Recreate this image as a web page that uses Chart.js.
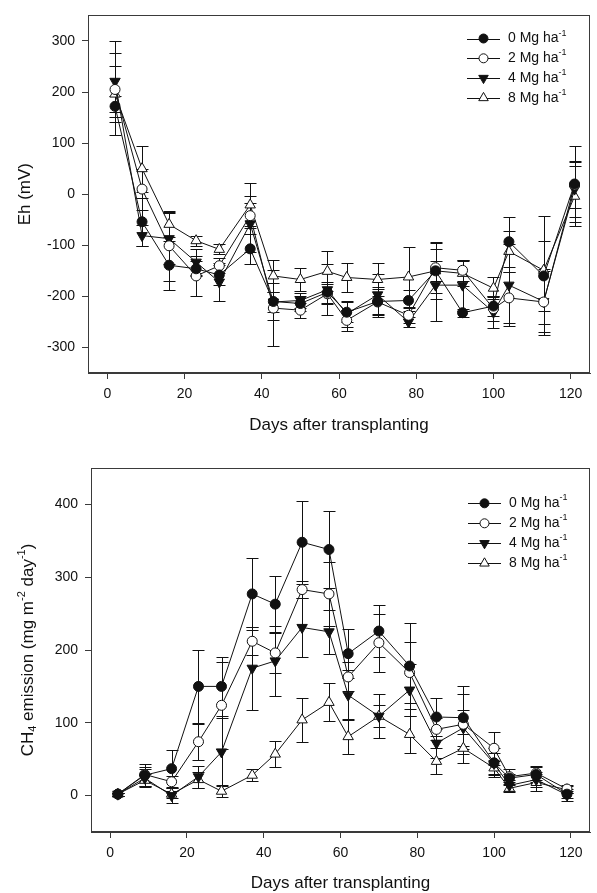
<!DOCTYPE html>
<html>
<head>
<meta charset="utf-8">
<script src="https://cdn.jsdelivr.net/npm/chart.js@4.4.1/dist/chart.umd.min.js"></script>
<style>
  html, body { margin: 0; padding: 0; background: #fff; }
  #wrap { position: relative; width: 597px; height: 893px; }
  .panel { position: absolute; left: 0; width: 597px; }
</style>
</head>
<body>
<div id="wrap">
  <div class="panel" style="top:0;height:440px"><canvas id="chartEh" width="597" height="440"></canvas></div>
  <div class="panel" style="top:440px;height:453px"><canvas id="chartCH4" width="597" height="453"></canvas></div>
</div>
<script>
// sampling days
const ehDays = [2, 9, 16, 23, 29, 37, 43, 50, 57, 62, 70, 78, 85, 92, 100, 104, 113, 121];
const ch4Days = [2, 9, 16, 23, 29, 37, 43, 50, 57, 62, 70, 78, 85, 92, 100, 104, 111, 119];

// Eh (mV) means and error bars
const eh0 = [172, -54, -139, -146, -158, -107, -210, -214, -192, -231, -210, -208, -150, -232, -219, -93, -160, 20];
const eh0Err = [20, 47, 48, 15, 20, 30, 37, 15, 20, 20, 25, 20, 20, 8, 20, 49, 69, 75];
const eh2 = [205, 10, -101, -160, -140, -42, -223, -227, -195, -247, -211, -237, -144, -149, -224, -203, -211, 18];
const eh2Err = [45, 40, 68, 40, 15, 25, 75, 15, 20, 20, 30, 15, 50, 20, 25, 50, 65, 45];
const eh4 = [221, -81, -87, -133, -172, -58, -211, -208, -187, -234, -197, -250, -178, -178, -231, -178, -210, 10];
const eh4Err = [79, 20, 50, 25, 38, 55, 20, 15, 50, 25, 40, 10, 70, 50, 30, 80, 60, 55];
const eh8 = [196, 50, -59, -91, -108, -21, -160, -167, -151, -163, -167, -162, -150, -155, -184, -112, -149, -4];
const eh8Err = [81, 45, 25, 10, 10, 42, 32, 23, 39, 28, 32, 58, 55, 25, 22, 40, 106, 59];

// CH4 emission (mg m-2 day-1) means and error bars
const ch40 = [2, 28, 37, 150, 150, 277, 263, 348, 338, 195, 226, 178, 108, 107, 45, 24, 29, 2];
const ch40Err = [2, 15, 25, 50, 41, 49, 38, 57, 53, 34, 36, 59, 26, 43, 20, 6, 10, 5];
const ch42 = [2, 29, 19, 74, 124, 212, 196, 283, 277, 163, 210, 169, 91, 98, 65, 26, 31, 9];
const ch42Err = [2, 10, 8, 25, 60, 19, 27, 12, 44, 20, 40, 42, 15, 41, 23, 10, 10, 5];
const ch44 = [2, 24, 0, 26, 60, 175, 185, 231, 225, 138, 109, 145, 72, 93, 44, 14, 22, 1];
const ch44Err = [2, 12, 10, 15, 47, 57, 48, 40, 30, 34, 30, 36, 20, 25, 15, 8, 10, 8];
const ch48 = [2, 21, 2, 22, 6, 28, 57, 104, 128, 81, 109, 84, 47, 65, 38, 10, 18, 8];
const ch48Err = [2, 8, 5, 11, 8, 8, 18, 30, 26, 24, 15, 26, 18, 20, 10, 5, 12, 5];

// axis ticks
const xTicks = [0, 20, 40, 60, 80, 100, 120];
const ehTicks = [-300, -200, -100, 0, 100, 200, 300];
const ch4Ticks = [0, 100, 200, 300, 400];

const seriesNames = ["0 Mg ha", "2 Mg ha", "4 Mg ha", "8 Mg ha"];

const ink = "#111";
const frameColor = "#3a3a3a";
const fontFamily = '"Liberation Sans", Arial, sans-serif';

Chart.defaults.font.family = fontFamily;
Chart.defaults.font.size = 14;
Chart.defaults.color = ink;

// marker look for each treatment
const markers = [
  { style: "circle", fill: ink, rotation: 0, radius: 5 },
  { style: "circle", fill: "#fff", rotation: 0, radius: 5 },
  { style: "triangle", fill: ink, rotation: 180, radius: 6 },
  { style: "triangle", fill: "#fff", rotation: 0, radius: 6 }
];

function makeDatasets(days, series, errs) {
  return series.map((vals, k) => ({
    label: seriesNames[k] + "-1",
    data: days.map((d, i) => ({ x: d, y: vals[i] })),
    errors: errs[k],
    borderColor: ink,
    borderWidth: 1,
    pointStyle: markers[k].style,
    pointRotation: markers[k].rotation,
    pointRadius: markers[k].radius,
    pointHoverRadius: markers[k].radius,
    pointBackgroundColor: markers[k].fill,
    pointBorderColor: ink,
    pointBorderWidth: 1,
    tension: 0
  }));
}

// draw text runs with sub/superscripts
function richWidth(ctx, parts, size) {
  let w = 0;
  parts.forEach(p => {
    ctx.font = (p.k === "n" ? size : Math.round(size * 0.65)) + "px " + fontFamily;
    w += ctx.measureText(p.t).width;
  });
  return w;
}
function drawRich(ctx, parts, x, y, size) {
  let cx = x;
  parts.forEach(p => {
    const s = p.k === "n" ? size : Math.round(size * 0.65);
    ctx.font = s + "px " + fontFamily;
    let dy = 0;
    if (p.k === "sup") dy = -size * 0.38;
    if (p.k === "sub") dy = size * 0.3;
    ctx.fillText(p.t, cx, y + dy);
    cx += ctx.measureText(p.t).width;
  });
}

function drawMarker(ctx, m, x, y, r) {
  ctx.beginPath();
  if (m.style === "circle") {
    ctx.arc(x, y, r, 0, Math.PI * 2);
  } else {
    const dir = m.rotation === 180 ? -1 : 1;
    ctx.moveTo(x, y - dir * r);
    ctx.lineTo(x + r * 0.866, y + dir * r * 0.5);
    ctx.lineTo(x - r * 0.866, y + dir * r * 0.5);
    ctx.closePath();
  }
  ctx.fillStyle = m.fill;
  ctx.fill();
  ctx.stroke();
}

const errorBars = {
  id: "errorBars",
  beforeDatasetsDraw(chart) {
    const { ctx, scales: { x, y } } = chart;
    ctx.save();
    ctx.strokeStyle = ink;
    ctx.lineWidth = 1;
    chart.data.datasets.forEach(ds => {
      ds.data.forEach((p, i) => {
        const e = ds.errors[i];
        const px = Math.round(x.getPixelForValue(p.x)) + 0.5;
        const yt = Math.round(y.getPixelForValue(p.y + e)) + 0.5;
        const yb = Math.round(y.getPixelForValue(p.y - e)) + 0.5;
        ctx.beginPath();
        ctx.moveTo(px, yt); ctx.lineTo(px, yb);
        ctx.moveTo(px - 6, yt); ctx.lineTo(px + 6, yt);
        ctx.moveTo(px - 6, yb); ctx.lineTo(px + 6, yb);
        ctx.stroke();
      });
    });
    ctx.restore();
  }
};

const decorations = {
  id: "decorations",
  afterDraw(chart, args, opts) {
    const { ctx, chartArea: a } = chart;
    ctx.save();
    // frame
    ctx.strokeStyle = frameColor;
    ctx.lineWidth = 1;
    ctx.strokeRect(Math.round(a.left) + 0.5, Math.round(a.top) + 0.5,
      Math.round(a.right - a.left) - 1, Math.round(a.bottom - a.top) - 1);

    ctx.fillStyle = ink;
    ctx.textBaseline = "middle";
    // x title
    const xw = richWidth(ctx, opts.xTitle, 17);
    drawRich(ctx, opts.xTitle, (a.left + a.right) / 2 - xw / 2, a.bottom + opts.xTitleGap, 17);
    // y title, rotated
    const yw = richWidth(ctx, opts.yTitle, 17);
    ctx.save();
    ctx.translate(opts.yTitleX, (a.top + a.bottom) / 2);
    ctx.rotate(-Math.PI / 2);
    drawRich(ctx, opts.yTitle, -yw / 2, 0, 17);
    ctx.restore();

    // legend
    const L = opts.legend;
    ctx.strokeStyle = ink;
    chart.data.datasets.forEach((ds, k) => {
      const ry = L.y + k * L.gap;
      ctx.beginPath();
      ctx.moveTo(L.x, Math.round(ry) + 0.5);
      ctx.lineTo(L.x + 33, Math.round(ry) + 0.5);
      ctx.stroke();
      drawMarker(ctx, markers[k], L.x + 16.5, ry, markers[k].style === "circle" ? 4.5 : 5.5);
      ctx.fillStyle = ink;
      drawRich(ctx, [{ t: seriesNames[k], k: "n" }, { t: "-1", k: "sup" }], L.x + 41, ry, 14);
    });
    ctx.restore();
  }
};

function makeChart(id, datasets, cfg) {
  return new Chart(document.getElementById(id), {
    type: "line",
    data: { datasets },
    plugins: [errorBars, decorations],
    options: {
      responsive: false,
      animation: false,
      layout: { padding: { top: cfg.padTop, right: 2, left: 0, bottom: 0 } },
      plugins: {
        legend: { display: false },
        tooltip: { enabled: false },
        decorations: {
          xTitle: [{ t: "Days after transplanting", k: "n" }],
          xTitleGap: cfg.xTitleGap,
          yTitle: cfg.yTitle,
          yTitleX: cfg.yTitleX,
          legend: cfg.legend
        }
      },
      scales: {
        x: {
          type: "linear",
          min: -5,
          max: 125,
          afterBuildTicks: s => { s.ticks = xTicks.map(v => ({ value: v })); },
          afterFit: s => { s.height = cfg.xHeight; },
          grid: { drawOnChartArea: false, tickLength: 6, color: frameColor },
          border: { color: frameColor },
          ticks: { padding: 7, maxRotation: 0, color: ink, font: { size: 14 } }
        },
        y: {
          min: cfg.yMin,
          max: cfg.yMax,
          afterBuildTicks: s => { s.ticks = cfg.yTicks.map(v => ({ value: v })); },
          afterFit: s => { s.width = cfg.yWidth; },
          grid: { drawOnChartArea: false, tickLength: 6, color: frameColor },
          border: { color: frameColor },
          ticks: { padding: 7, color: ink, font: { size: 14 } }
        }
      }
    }
  });
}

makeChart("chartEh",
  makeDatasets(ehDays, [eh0, eh2, eh4, eh8], [eh0Err, eh2Err, eh4Err, eh8Err]),
  {
    padTop: 9, xHeight: 67, yWidth: 88, yMin: -350, yMax: 350, yTicks: ehTicks,
    xTitleGap: 52, yTitleX: 25,
    yTitle: [{ t: "Eh (mV)", k: "n" }],
    legend: { x: 467, y: 38.5, gap: 19.8 }
  });

makeChart("chartCH4",
  makeDatasets(ch4Days, [ch40, ch42, ch44, ch48], [ch40Err, ch42Err, ch44Err, ch48Err]),
  {
    padTop: 28, xHeight: 61, yWidth: 91, yMin: -50, yMax: 450, yTicks: ch4Ticks,
    xTitleGap: 51, yTitleX: 28,
    yTitle: [
      { t: "CH", k: "n" }, { t: "4", k: "sub" }, { t: " emission (mg m", k: "n" },
      { t: "-2", k: "sup" }, { t: " day", k: "n" }, { t: "-1", k: "sup" }, { t: ")", k: "n" }
    ],
    legend: { x: 468, y: 63.3, gap: 20 }
  });
</script>
</body>
</html>
